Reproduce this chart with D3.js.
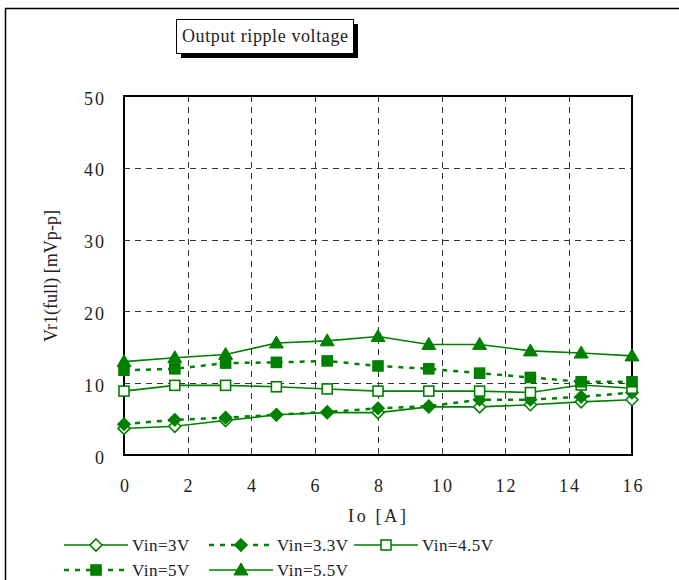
<!DOCTYPE html>
<html><head><meta charset="utf-8">
<script src="https://cdn.jsdelivr.net/npm/d3@7"></script>
<style>body{margin:0;background:#fff}svg{display:block}text{font-family:"Liberation Serif","Times New Roman",serif;fill:#222}</style>
</head><body><svg id="c" width="679" height="580"></svg>
<script>
const xValues = [0, 1.6, 3.2, 4.8, 6.4, 8, 9.6, 11.2, 12.8, 14.4, 16];
const v30 = [3.7, 4.0, 4.8, 5.6, 5.9, 5.9, 6.7, 6.7, 7.0, 7.4, 7.7];
const v33 = [4.3, 4.9, 5.2, 5.6, 6.0, 6.5, 6.8, 7.7, 7.7, 8.1, 8.7];
const v45 = [8.9, 9.7, 9.7, 9.5, 9.2, 8.9, 8.9, 8.9, 8.7, 9.75, 9.3];
const v50 = [11.8, 12.0, 12.8, 12.9, 13.1, 12.4, 12.0, 11.4, 10.8, 10.2, 10.2];
const v55 = [13.0, 13.55, 14.0, 15.6, 15.9, 16.5, 15.4, 15.4, 14.5, 14.2, 13.8];
const seriesNames = ["Vin=3V", "Vin=3.3V", "Vin=4.5V", "Vin=5V", "Vin=5.5V"];
const xTicks = [0, 2, 4, 6, 8, 10, 12, 14, 16];
const yTicks = [0, 10, 20, 30, 40, 50];
const titleText = "Output ripple voltage";
const xTitle = "Io [A]";
const yTitle = "Vr1(full) [mVp-p]";

const green = "#008000";
const series = [
  {name: seriesNames[0], vals: v30, dash: null, marker: "diamond", fill: false},
  {name: seriesNames[1], vals: v33, dash: "5,6", marker: "diamond", fill: true},
  {name: seriesNames[2], vals: v45, dash: null, marker: "square", fill: false},
  {name: seriesNames[3], vals: v50, dash: "5,6", marker: "square", fill: true},
  {name: seriesNames[4], vals: v55, dash: null, marker: "triangle", fill: true}
];

const svg = d3.select("#c");
svg.append("rect").attr("x", 5.5).attr("y", 8.5).attr("width", 720).attr("height", 620)
  .attr("fill", "none").attr("stroke", "#000").attr("stroke-width", 1.5);

// title box with shadow
const tb = {x: 176, y: 19, w: 177, h: 34};
svg.append("rect").attr("x", tb.x + 5).attr("y", tb.y + 5).attr("width", tb.w).attr("height", tb.h).attr("fill", "#000");
svg.append("rect").attr("x", tb.x + 0.5).attr("y", tb.y + 0.5).attr("width", tb.w).attr("height", tb.h)
  .attr("fill", "#fff").attr("stroke", "#000").attr("stroke-width", 1);
svg.append("text").attr("x", tb.x + tb.w / 2 + 0.5).attr("y", tb.y + 23).attr("text-anchor", "middle")
  .attr("textLength", 166).attr("lengthAdjust", "spacing")
  .style("font-size", "18px").text(titleText);

const L = 124, R = 632, T = 96, B = 455;
const x = d3.scaleLinear().domain([0, 16]).range([L, R]);
const y = d3.scaleLinear().domain([0, 50]).range([B, T]);

const g = svg.append("g");
g.selectAll(".vg").data(xTicks.filter(d => d > 0 && d < 16)).join("line")
  .attr("x1", d => Math.round(x(d)) + 0.5).attr("x2", d => Math.round(x(d)) + 0.5)
  .attr("y1", T).attr("y2", B).attr("stroke", "#333").attr("stroke-width", 1).attr("stroke-dasharray", "6,5");
g.selectAll(".hg").data(yTicks.filter(d => d > 0 && d < 50)).join("line")
  .attr("y1", d => Math.round(y(d)) + 0.5).attr("y2", d => Math.round(y(d)) + 0.5)
  .attr("x1", L).attr("x2", R).attr("stroke", "#333").attr("stroke-width", 1).attr("stroke-dasharray", "6,5");

const xAxis = d3.axisBottom(x).tickValues(xTicks).tickSize(0).tickPadding(24).tickFormat(d3.format("d"));
const yAxis = d3.axisLeft(y).tickValues(yTicks).tickSize(0).tickPadding(20).tickFormat(d3.format("d"));
const gx = svg.append("g").attr("transform", `translate(0,${B})`).call(xAxis);
const gy = svg.append("g").attr("transform", `translate(${L},0)`).call(yAxis);
[gx, gy].forEach(a => {
  a.select(".domain").remove();
  a.selectAll("text").style("font-size", "18px").style("font-family", '"Liberation Serif",serif')
    .style("letter-spacing", "2px").attr("fill", "#222");
});
gx.selectAll("text").attr("dx", "1px");
gy.selectAll("text").attr("dy", "0.45em").attr("dx", "2px");

svg.append("rect").attr("x", L).attr("y", T).attr("width", R - L).attr("height", B - T)
  .attr("fill", "none").attr("stroke", "#000").attr("stroke-width", 2);

svg.append("text").attr("x", 377).attr("y", 522).attr("text-anchor", "middle")
  .attr("textLength", 58).attr("lengthAdjust", "spacing").style("font-size", "18px").text(xTitle);
svg.append("text").attr("transform", "translate(57,276) rotate(-90)").attr("text-anchor", "middle")
  .attr("textLength", 132).attr("lengthAdjust", "spacingAndGlyphs")
  .style("font-size", "18px").text(yTitle);

function marker(sel, s, cx, cy) {
  const fill = s.fill ? green : "#fff";
  if (s.marker === "diamond") {
    const r = 6;
    sel.append("path").attr("d", `M${cx},${cy - r}L${cx + r},${cy}L${cx},${cy + r}L${cx - r},${cy}Z`)
      .attr("fill", fill).attr("stroke", green).attr("stroke-width", 1.6);
  } else if (s.marker === "square") {
    const r = 5;
    sel.append("rect").attr("x", cx - r).attr("y", cy - r).attr("width", 2 * r).attr("height", 2 * r)
      .attr("fill", fill).attr("stroke", green).attr("stroke-width", 1.6);
  } else {
    sel.append("path").attr("d", `M${cx},${cy - 7}L${cx + 7},${cy + 5}L${cx - 7},${cy + 5}Z`)
      .attr("fill", fill).attr("stroke", green).attr("stroke-width", 1);
  }
}

const line = d3.line().x((d, i) => x(xValues[i])).y(d => y(d));
const plot = svg.append("g");
series.forEach(s => {
  plot.append("path").attr("d", line(s.vals)).attr("fill", "none").attr("stroke", green)
    .attr("stroke-width", s.dash ? 2.5 : 1.6).attr("stroke-dasharray", s.dash);
});
series.forEach(s => {
  s.vals.forEach((v, i) => marker(plot, s, x(xValues[i]), y(v)));
});

const legPos = [[64, 545], [209, 545], [354, 545], [64, 570], [209, 570]];
series.forEach((s, i) => {
  const [lx, ly] = legPos[i];
  const lg = svg.append("g");
  lg.append("line").attr("x1", lx).attr("x2", lx + 64).attr("y1", ly).attr("y2", ly)
    .attr("stroke", green).attr("stroke-width", s.dash ? 2.5 : 1.6).attr("stroke-dasharray", s.dash);
  marker(lg, s, lx + 32, ly);
  lg.append("text").attr("x", lx + 68).attr("y", ly + 6).style("font-size", "17px")
    .style("letter-spacing", "0.5px").text(s.name);
});
</script></body></html>
